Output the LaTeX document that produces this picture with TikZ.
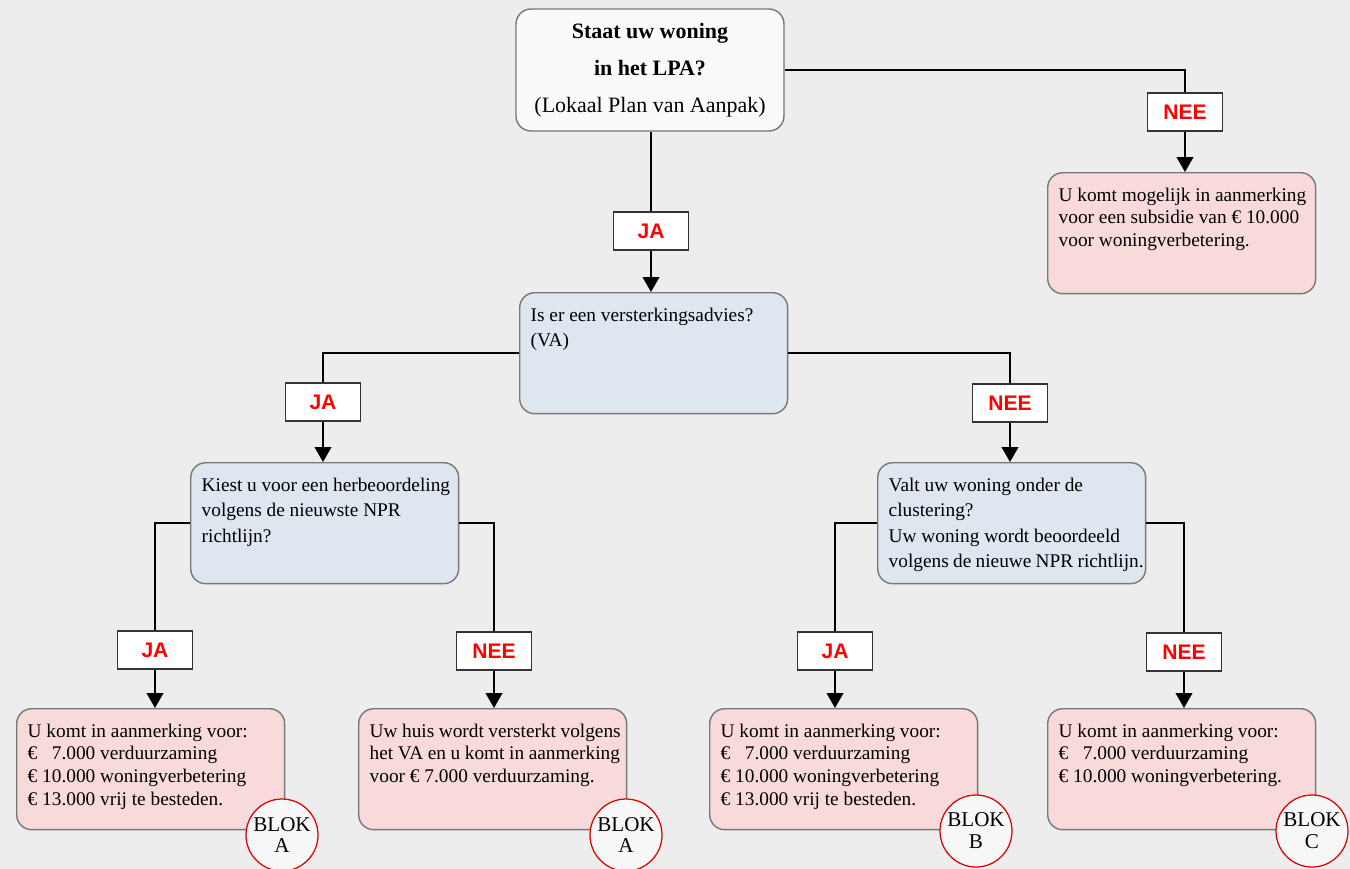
\documentclass[tikz,border=0pt]{standalone}
\usepackage{fontspec}
\setmainfont{Liberation Serif}
\setsansfont{Liberation Sans}
\usetikzlibrary{arrows.meta}
\definecolor{achter}{RGB}{237,237,237}
\definecolor{roze}{RGB}{248,218,218}
\definecolor{lichtblauw}{RGB}{222,230,240}
\definecolor{rand}{RGB}{120,120,120}

\begin{document}
\begin{tikzpicture}[x=0.02cm,y=-0.02cm,>={Triangle[width=9.5pt,length=8.5pt]},line width=1pt]
    \tikzstyle{vak}=[draw=rand,line width=0.8pt,rounded corners=0.3cm,anchor=north west,inner xsep=0.22cm,inner ysep=0.3cm,execute at end node={\end{minipage}}]
    \tikzstyle{vraag}=[vak,fill=lichtblauw,execute at begin node={\begin{minipage}[t][1.82cm][t]{4.92cm}\fontsize{11}{14.5}\selectfont\raggedright\rightskip=0pt plus 1fil minus 15pt}]
    \tikzstyle{uitkomst}=[vak,fill=roze,execute at begin node={\begin{minipage}[t][1.82cm][t]{4.92cm}\fontsize{11}{13}\selectfont\raggedright\rightskip=0pt plus 1fil minus 15pt}]
    \tikzstyle{keuze}=[draw=black!80,fill=white,line width=0.8pt,minimum width=1.5cm,minimum height=0.76cm,text=red,font=\sffamily\bfseries\fontsize{12}{12}\selectfont]
    \tikzstyle{blok}=[circle,draw=red!85!black,line width=0.7pt,fill=black!3,minimum size=1.44cm,inner sep=0pt,align=center,font=\fontsize{12}{12.5}\selectfont]
    \useasboundingbox (0,0) rectangle (1350,869);
    \fill[achter] (0,0) rectangle (1350,869);
    \node[draw=rand,line width=0.8pt,fill=black!2,rounded corners=0.3cm,minimum width=5.36cm,minimum height=2.44cm,align=center,font=\fontsize{12.5}{21}\selectfont]
                               (1)  at (650,70)   {\textbf{Staat uw woning}\\\textbf{in het LPA?}\\(Lokaal Plan van Aanpak)};
    \node[keuze]               (2)  at (1185,112) {NEE};
    \node[uitkomst]            (3)  at (1047,172) {U komt mogelijk in aanmerking\\voor een subsidie van € 10.000\\voor woningverbetering.};
    \node[keuze]               (4)  at (651,231)  {JA};
    \node[vraag]               (5)  at (519,292)  {Is er een versterkingsadvies?\\(VA)};
    \node[keuze]               (6)  at (323,402)  {JA};
    \node[keuze]               (7)  at (1010,403) {NEE};
    \node[vraag]               (8)  at (190,462)  {Kiest u voor een herbeoordeling\\volgens de nieuwste NPR\\richtlijn?};
    \node[vraag]               (9)  at (877,462)  {Valt uw woning onder de\\clustering?\\Uw woning wordt beoordeeld\\volgens de nieuwe NPR richtlijn.};
    \node[keuze]               (10) at (155,650)  {JA};
    \node[keuze]               (11) at (494,651)  {NEE};
    \node[keuze]               (12) at (835,651)  {JA};
    \node[keuze]               (13) at (1184,652) {NEE};
    \node[uitkomst]            (14) at (16,708)   {U komt in aanmerking voor:\\€ \hspace{0.5em}7.000 verduurzaming\\€ 10.000 woningverbetering\\€ 13.000 vrij te besteden.};
    \node[uitkomst]            (15) at (358,708)  {Uw huis wordt versterkt volgens\\het VA en u komt in aanmerking\\voor € 7.000 verduurzaming.};
    \node[uitkomst]            (16) at (709,708)  {U komt in aanmerking voor:\\€ \hspace{0.5em}7.000 verduurzaming\\€ 10.000 woningverbetering\\€ 13.000 vrij te besteden.};
    \node[uitkomst]            (17) at (1047,708) {U komt in aanmerking voor:\\€ \hspace{0.5em}7.000 verduurzaming\\€ 10.000 woningverbetering.};
    \node[blok]                (18) at (282,835)  {BLOK\\A};
    \node[blok]                (19) at (626,835)  {BLOK\\A};
    \node[blok]                (20) at (976,831)  {BLOK\\B};
    \node[blok]                (21) at (1312,831) {BLOK\\C};
    \draw (1) -| (2);
    \draw[->] (2) -- (2 |- 3.north);
    \draw (1.south -| 4) -- (4);
    \draw[->] (4) -- (4 |- 5.north);
    \draw (5) -| (6);
    \draw[->] (6) -- (6 |- 8.north);
    \draw (5) -| (7);
    \draw[->] (7) -- (7 |- 9.north);
    \draw (8) -| (10);
    \draw[->] (10) -- (10 |- 14.north);
    \draw (8) -| (11);
    \draw[->] (11) -- (11 |- 15.north);
    \draw (9) -| (12);
    \draw[->] (12) -- (12 |- 16.north);
    \draw (9) -| (13);
    \draw[->] (13) -- (13 |- 17.north);
\end{tikzpicture}
\end{document}
